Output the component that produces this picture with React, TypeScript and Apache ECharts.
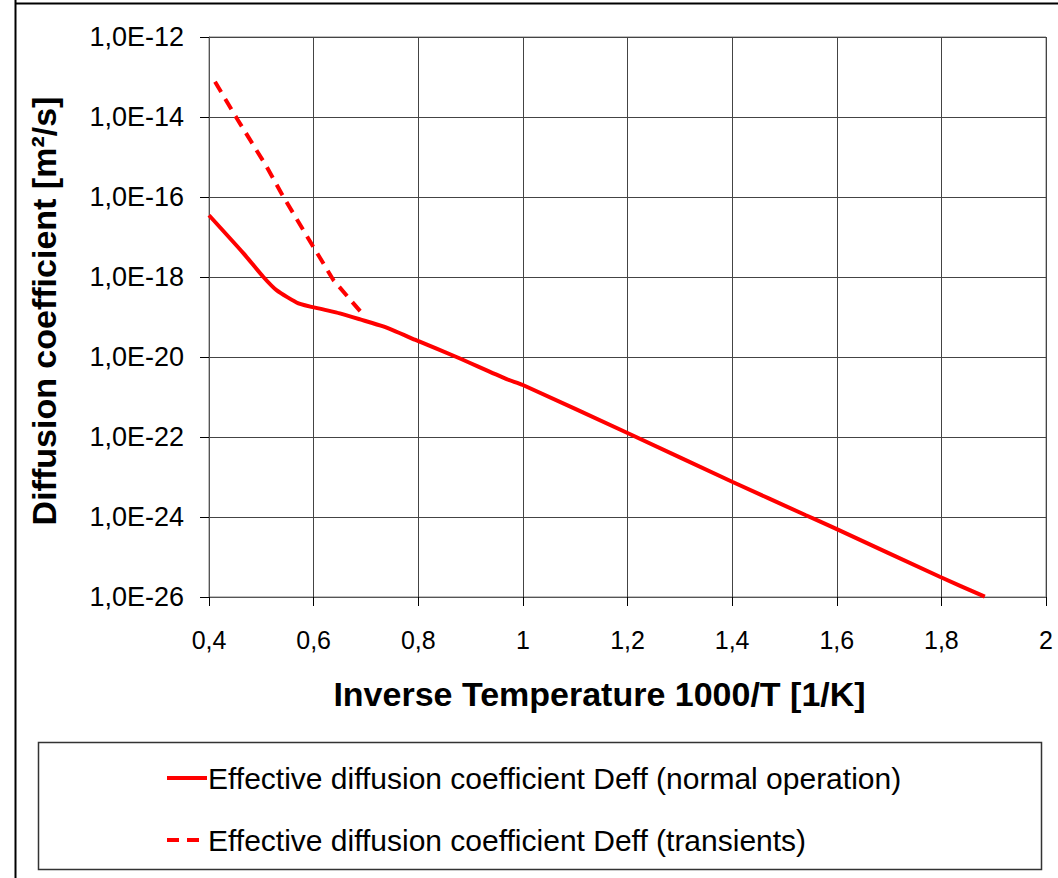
import React, { useEffect, useRef } from "react";
import * as echarts from "echarts";

const normalX = [0.4, 0.466, 0.504, 0.529, 0.571, 0.618, 0.65, 0.689, 0.733, 0.797, 0.873, 0.969, 1.0, 1.2, 1.4, 1.54, 1.597, 1.797, 1.883];
const normalY = [3.5e-17, 3.9e-18, 1.0e-18, 4.7e-19, 2.2e-19, 1.55e-19, 1.23e-19, 8.7e-20, 5.8e-20, 2.6e-20, 1.0e-20, 2.8e-21, 2.0e-21, 1.26e-22, 7.6e-24, 1.12e-24, 5.2e-25, 3.2e-26, 1.02e-26];
const transX = [0.4115, 0.453, 0.51, 0.542, 0.599, 0.638, 0.698];
const transY = [7.6e-14, 9.3e-15, 5.8e-16, 1.02e-16, 5.8e-18, 8.3e-19, 1.02e-19];

// decade exponents of the logarithmic y axis
const yMinExp = -26;
const yMaxExp = -12;
const yStepExp = 2;

const nameNormal = "Effective diffusion coefficient Deff (normal operation)";
const nameTrans = "Effective diffusion coefficient Deff (transients)";
const yTitle = "Diffusion coefficient [m²/s]";
const xTitle = "Inverse Temperature 1000/T [1/K]";

const FONT = "Liberation Sans, Arial, sans-serif";

export default function App() {
  const ref = useRef<HTMLDivElement>(null);
  useEffect(() => {
    document.body.style.margin = "0";
    const chart = echarts.init(ref.current!, null, { renderer: "svg" });
    chart.setOption({
      animation: false,
      backgroundColor: "#fff",
      grid: {
        left: 209,
        top: 37,
        width: 837,
        height: 560,
        show: true,
        borderColor: "#7f7f7f",
        borderWidth: 1,
        containLabel: false,
        outerBoundsMode: "none",
      },
      xAxis: {
        type: "value",
        min: 0.4,
        max: 2,
        interval: 0.2,
        name: xTitle,
        nameLocation: "middle",
        nameGap: 80,
        nameTextStyle: { fontFamily: FONT, fontSize: 34, fontWeight: "bold", color: "#000", padding: [0, 56, 0, 0] },
        axisLine: { onZero: false, lineStyle: { color: "#555", width: 1 } },
        axisTick: { show: true, length: 9, lineStyle: { color: "#000" } },
        axisLabel: {
          fontFamily: FONT,
          fontSize: 25,
          color: "#000",
          margin: 30,
          showMinLabel: true,
          showMaxLabel: true,
          formatter: (v: number) => String(Math.round(v * 10) / 10).replace(".", ","),
        },
        splitLine: { show: true, lineStyle: { color: "#444", width: 1 } },
      },
      yAxis: {
        type: "value",
        min: yMinExp,
        max: yMaxExp,
        interval: yStepExp,
        axisLine: { show: true, onZero: false, lineStyle: { color: "#555", width: 1 } },
        axisTick: { show: true, length: 9, lineStyle: { color: "#000" } },
        axisLabel: {
          fontFamily: FONT,
          fontSize: 27,
          color: "#000",
          margin: 25,
          showMinLabel: true,
          showMaxLabel: true,
          formatter: (v: number) => "1,0E" + Math.round(v),
        },
        splitLine: { show: true, lineStyle: { color: "#444", width: 1 } },
      },
      legend: {
        orient: "vertical",
        left: 160,
        top: 757,
        itemWidth: 40,
        itemHeight: 14,
        itemGap: 30,
        itemStyle: { opacity: 0 },
        lineStyle: { width: 4 },
        textStyle: { fontFamily: FONT, fontSize: 30, color: "#000", lineHeight: 32, padding: [0, 0, 0, -4] },
        data: [nameNormal, nameTrans],
      },
      graphic: [
        { type: "line", shape: { x1: 15.5, y1: 0, x2: 15.5, y2: 878 }, style: { stroke: "#000", lineWidth: 2 } },
        { type: "line", shape: { x1: 15, y1: 3.5, x2: 1058, y2: 3.5 }, style: { stroke: "#000", lineWidth: 2 } },
        { type: "rect", shape: { x: 38.5, y: 742.5, width: 1003, height: 127 }, style: { fill: "none", stroke: "#333", lineWidth: 1.5 } },
        {
          type: "text",
          x: 44,
          y: 311,
          rotation: Math.PI / 2,
          style: {
            text: yTitle,
            fontFamily: FONT,
            fontSize: 34,
            fontWeight: "bold",
            fill: "#000",
            align: "center",
            verticalAlign: "middle",
          },
        },
      ],
      series: [
        {
          name: nameNormal,
          type: "line",
          data: normalX.map((x, i) => [x, Math.log10(normalY[i])]),
          showSymbol: false,
          symbol: "none",
          smooth: 0.2,
          lineStyle: { color: "#ff0000", width: 4 },
          itemStyle: { color: "#ff0000" },
        },
        {
          name: nameTrans,
          type: "line",
          data: transX.map((x, i) => [x, Math.log10(transY[i])]),
          showSymbol: false,
          symbol: "none",
          lineStyle: { color: "#ff0000", width: 4, type: [12, 8] },
          itemStyle: { color: "#ff0000" },
        },
      ],
    });
    return () => chart.dispose();
  }, []);
  return <div ref={ref} style={{ width: 1058, height: 878 }} />;
}
